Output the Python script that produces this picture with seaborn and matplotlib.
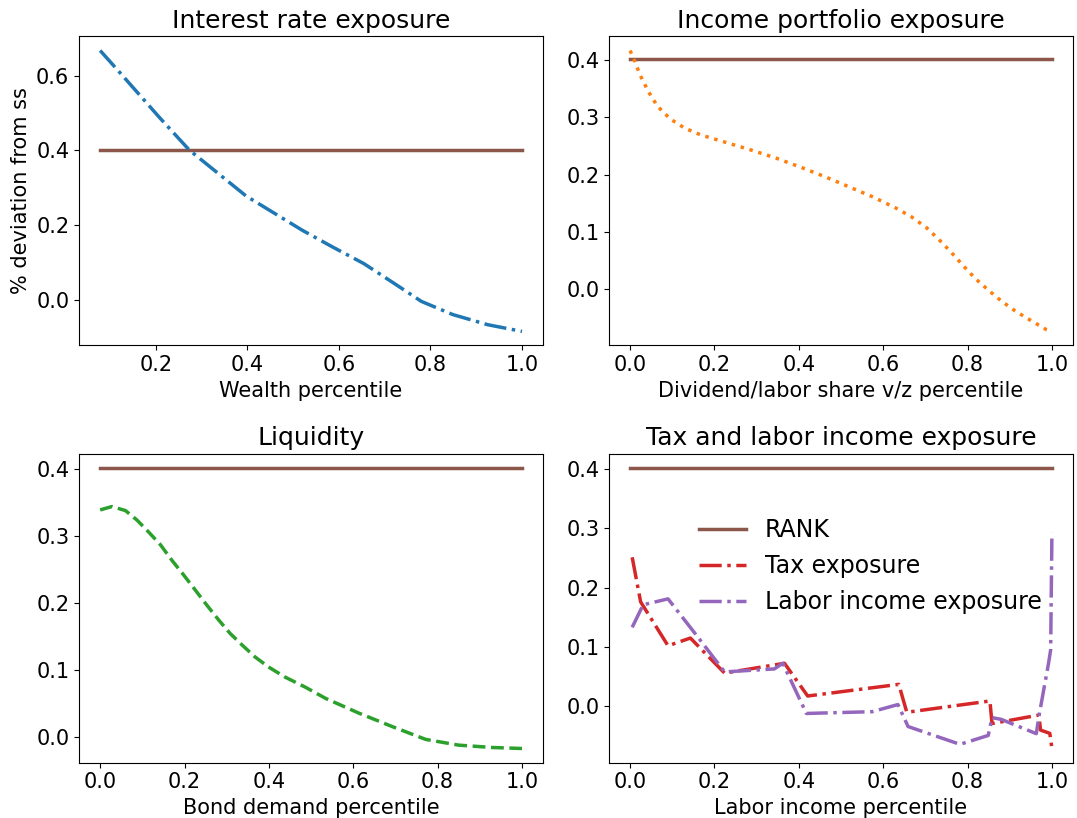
import numpy as np
import pandas as pd
import matplotlib
matplotlib.use("Agg")
import matplotlib.pyplot as plt
import seaborn as sns

rank_value = 0.402

# Interest rate exposure
wealth_pct = [0.078, 0.121, 0.208, 0.273, 0.397, 0.520, 0.585, 0.654, 0.719, 0.780,
              0.849, 0.925, 1.0]
interest_exp = [0.668, 0.609, 0.488, 0.401, 0.278, 0.186, 0.142, 0.097, 0.045, -0.0045,
                -0.040, -0.067, -0.085]

# Income portfolio exposure
vz_pct = [0.0, 0.009, 0.024, 0.043, 0.065, 0.095, 0.129, 0.168, 0.227, 0.286, 0.345,
          0.404, 0.463, 0.518, 0.576, 0.632, 0.668, 0.702, 0.732, 0.761, 0.789, 0.817,
          0.849, 0.880, 0.914, 0.950, 0.987, 1.0]
income_exp = [0.416, 0.401, 0.373, 0.345, 0.319, 0.297, 0.281, 0.269, 0.256, 0.243, 0.229,
              0.213, 0.196, 0.179, 0.161, 0.141, 0.126, 0.108, 0.087, 0.065, 0.042, 0.020,
              -0.001, -0.020, -0.038, -0.054, -0.070, -0.073]

# Liquidity
bond_pct = [0.0, 0.028, 0.060, 0.087, 0.115, 0.143, 0.170, 0.198, 0.225, 0.253, 0.281,
            0.308, 0.336, 0.367, 0.399, 0.438, 0.486, 0.535, 0.614, 0.693, 0.772, 0.850,
            0.929, 1.0]
liquidity = [0.339, 0.344, 0.338, 0.324, 0.306, 0.287, 0.264, 0.242, 0.220, 0.197, 0.175,
             0.155, 0.138, 0.120, 0.105, 0.090, 0.075, 0.058, 0.036, 0.016, -0.003, -0.0115,
             -0.015, -0.0165]

# Tax and labor income exposure
tax_pct = [0.005, 0.025, 0.090, 0.143, 0.224, 0.366, 0.421, 0.637, 0.656, 0.853, 0.858,
           0.969, 0.973, 0.995, 1.0]
tax_exp = [0.251, 0.176, 0.102, 0.115, 0.056, 0.0725, 0.0174, 0.037, -0.010, 0.009, -0.029,
           -0.0147, -0.040, -0.0455, -0.071]
lab_pct = [0.005, 0.031, 0.090, 0.157, 0.224, 0.342, 0.362, 0.418, 0.574, 0.635, 0.659,
           0.782, 0.849, 0.858, 0.880, 0.963, 0.969, 0.992, 0.997, 1.0]
lab_exp = [0.133, 0.171, 0.181, 0.120, 0.058, 0.063, 0.0725, -0.012, -0.009, 0.003, -0.034,
           -0.064, -0.049, -0.019, -0.022, -0.046, -0.0175, 0.0725, 0.095, 0.292]

titles = ["Interest rate exposure", "Income portfolio exposure", "Liquidity",
          "Tax and labor income exposure"]
xlabels = ["Wealth percentile", "Dividend/labor share v/z percentile",
           "Bond demand percentile", "Labor income percentile"]

c_blue, c_orange, c_green, c_red, c_purple, c_brown = sns.color_palette("tab10")[:6]
lw = 2.5

fig, axes = plt.subplots(2, 2, figsize=(10.77, 8.18), dpi=100)
fig.subplots_adjust(left=0.0734, right=0.9963, top=0.9554, bottom=0.0678,
                    wspace=0.142, hspace=0.35)

def rank_line(ax, xs):
    sns.lineplot(x=[xs[0], xs[-1]], y=[rank_value, rank_value], ax=ax, color=c_brown,
                 lw=lw, label="RANK", legend=False)

ax = axes[0, 0]
rank_line(ax, wealth_pct)
sns.lineplot(x=wealth_pct, y=interest_exp, ax=ax, color=c_blue, lw=lw, linestyle="-.",
             legend=False, sort=False)
ax.set_ylabel("% deviation from ss", fontsize=15)

ax = axes[0, 1]
rank_line(ax, vz_pct)
sns.lineplot(x=vz_pct, y=income_exp, ax=ax, color=c_orange, lw=lw, linestyle=":",
             legend=False, sort=False)

ax = axes[1, 0]
rank_line(ax, bond_pct)
sns.lineplot(x=bond_pct, y=liquidity, ax=ax, color=c_green, lw=lw, linestyle="--",
             legend=False, sort=False)

ax = axes[1, 1]
rank_line(ax, [0.0, 1.0])
sns.lineplot(x=tax_pct, y=tax_exp, ax=ax, color=c_red, lw=lw, linestyle="-.",
             label="Tax exposure", legend=False, sort=False)
sns.lineplot(x=lab_pct, y=lab_exp, ax=ax, color=c_purple, lw=lw, linestyle="-.",
             label="Labor income exposure", legend=False, sort=False)
ax.legend(loc="center", bbox_to_anchor=(0.563, 0.636), frameon=False, fontsize=17,
          labelspacing=0.5)

for ax, t, xl in zip(axes.flat, titles, xlabels):
    ax.set_title(t, fontsize=18)
    ax.set_xlabel(xl, fontsize=15)
    ax.tick_params(labelsize=15)
    if ax is not axes[0, 0]:
        ax.set_ylabel("")

fig.savefig("out.png", dpi=100)
